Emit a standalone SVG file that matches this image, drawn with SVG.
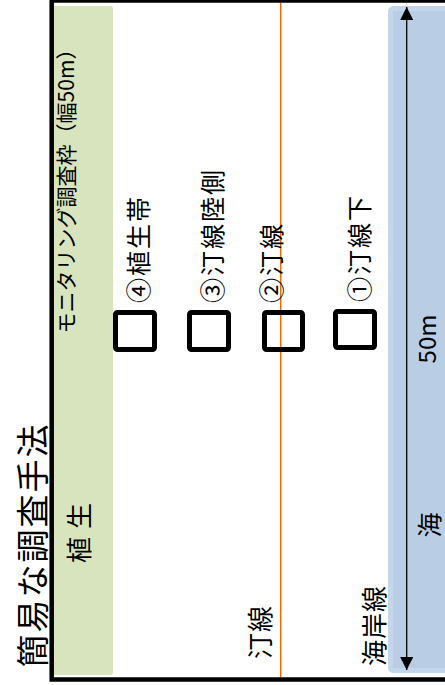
<svg xmlns="http://www.w3.org/2000/svg" width="445" height="685" viewBox="0 0 445 685">
<defs>
<style>
text{font-family:"Noto Sans CJK JP","Noto Sans",sans-serif;fill:#000}
.lbl{font-size:25px;letter-spacing:2px;dominant-baseline:central}
.plot{fill:none;stroke:#000;stroke-width:5}
</style>
<marker id="ah" viewBox="0 0 10 10" refX="10" refY="5" markerWidth="13" markerHeight="13" markerUnits="userSpaceOnUse" orient="auto-start-reverse">
<path d="M0,0 L10,5 L0,10 Z" fill="#000"/>
</marker>
</defs>
<rect width="445" height="685" fill="#fff"/>
<g id="vegetation-zone">
<rect x="52" y="6" width="61" height="669" rx="3" fill="#D7E4BD"/>
<text transform="translate(65,186) rotate(-90)" text-anchor="middle" dominant-baseline="central" font-size="21">モニタリング調査枠（幅50m）</text>
<text transform="translate(77.5,563) rotate(-90)" text-anchor="start" dominant-baseline="central" font-size="26" letter-spacing="8">植生</text>
</g>
<g id="sea-zone">
<rect x="390.5" y="8.5" width="60" height="662" rx="3" fill="#B9CDE5" stroke="#C4D6EC" stroke-width="5"/>
<text transform="translate(428,525) rotate(-90)" text-anchor="middle" dominant-baseline="central" font-size="25">海</text>
<text transform="translate(425,339) rotate(-90)" text-anchor="middle" dominant-baseline="central" font-size="24">50m</text>
</g>
<g id="frame">
<path d="M446,0.5 H51.7 V679.5 H446" fill="none" stroke="#000" stroke-width="4.5"/>
</g>
<g id="title">
<text transform="translate(31,545) rotate(-90)" text-anchor="middle" dominant-baseline="central" font-size="33" letter-spacing="2">簡易な調査手法</text>
</g>
<g id="connectors">
<line x1="280.7" y1="3" x2="280.7" y2="677" stroke="#E46C0A" stroke-width="1.5"/>
<line x1="406.7" y1="7" x2="406.7" y2="670" stroke="#000" stroke-width="1.3" marker-start="url(#ah)" marker-end="url(#ah)"/>
</g>
<g id="shoreline-label">
<text transform="translate(258,659) rotate(-90)" text-anchor="start" dominant-baseline="central" font-size="26" letter-spacing="1">汀線</text>
<text transform="translate(372,666) rotate(-90)" text-anchor="start" dominant-baseline="central" font-size="26" letter-spacing="1">海岸線</text>
</g>
<g id="plot4">
<rect class="plot" x="115.5" y="312.5" width="39" height="37" rx="2"/>
<text class="lbl" transform="translate(137,303) rotate(-90)">④植生帯</text>
</g>
<g id="plot3">
<rect class="plot" x="189.5" y="312.5" width="39" height="37" rx="2"/>
<text class="lbl" transform="translate(211,303) rotate(-90)">③汀線陸側</text>
</g>
<g id="plot2">
<rect class="plot" x="264.5" y="312.5" width="38" height="37" rx="2"/>
<text class="lbl" transform="translate(269.5,303) rotate(-90)">②汀線</text>
</g>
<g id="plot1">
<rect class="plot" x="335.5" y="311.5" width="39" height="36" rx="2"/>
<text class="lbl" transform="translate(357.5,302) rotate(-90)">①汀線下</text>
</g>
</svg>
